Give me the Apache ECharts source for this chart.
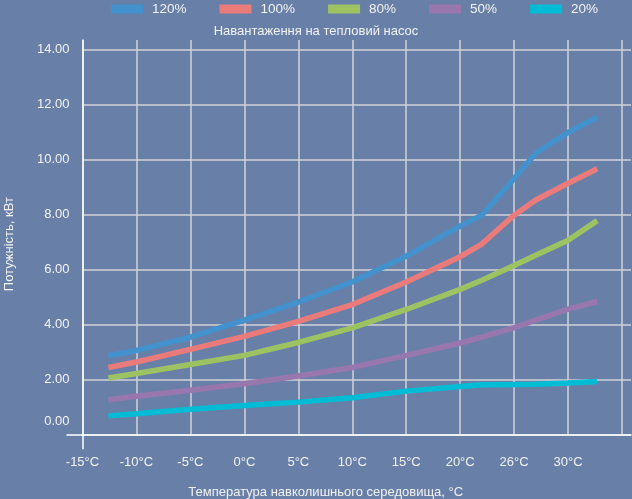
<!DOCTYPE html>
<html><head><meta charset="utf-8">
<script src="https://cdn.jsdelivr.net/npm/echarts@6/dist/echarts.min.js"></script>
<style>html,body{margin:0;padding:0;background:#6880a8}#c{width:632px;height:499px}</style>
</head><body><div id="c"></div>
<script>
// ---- data ----
const seriesNames = ['120%', '100%', '80%', '50%', '20%'];
const temps = [-12.6, -10, -5, 0, 5, 10, 15, 20, 22, 25, 27, 30, 32.7];
const load120 = [2.86, 3.05, 3.53, 4.15, 4.81, 5.54, 6.48, 7.57, 7.97, 9.30, 10.22, 10.98, 11.53];
const load100 = [2.43, 2.63, 3.09, 3.56, 4.11, 4.72, 5.54, 6.46, 6.92, 7.97, 8.52, 9.13, 9.66];
const load80  = [2.05, 2.21, 2.54, 2.87, 3.34, 3.87, 4.54, 5.27, 5.60, 6.14, 6.51, 7.06, 7.77];
const load50  = [1.26, 1.38, 1.60, 1.84, 2.12, 2.43, 2.87, 3.32, 3.53, 3.88, 4.15, 4.55, 4.83];
const load20  = [0.67, 0.75, 0.91, 1.05, 1.17, 1.33, 1.57, 1.74, 1.80, 1.81, 1.82, 1.87, 1.92];
const xTickValues = [-15, -10, -5, 0, 5, 10, 15, 20, 25, 30];
const xTickLabels = ['-15°C', '-10°C', '-5°C', '0°C', '5°C', '10°C', '15°C', '20°C', '26°C', '30°C'];
const yTickValues = [0, 2, 4, 6, 8, 10, 12, 14];
const yTickLabels = ['0.00', '2.00', '4.00', '6.00', '8.00', '10.00', '12.00', '14.00'];
const titleText = 'Навантаження на тепловий насос';
const xName = 'Температура навколишнього середовища, °C';
const yName = 'Потужність, кВт';

// ---- chart ----
const allSeries = [load120, load100, load80, load50, load20];
const colors = ['#4391cd', '#ea7b7a', '#9cc261', '#9877ae', '#00bcd5'];
const font = "'Liberation Sans', Arial, sans-serif";
const txt = '#f2f2f2';
const grid = '#d2d2d6';
const X_MIN = -15, X_MAX = 35.83, Y_MIN = 0, Y_MAX = 14.34;
const chart = echarts.init(document.getElementById('c'), null, {renderer: 'canvas'});
chart.setOption({
  backgroundColor: '#6880a8',
  animation: false,
  color: colors,
  title: {
    text: titleText, left: 'center', top: 25, padding: 0,
    textStyle: {color: txt, fontSize: 13, fontWeight: 'normal', fontFamily: font}
  },
  legend: {
    data: seriesNames, top: 2, left: 111, padding: 0, itemWidth: 32, itemHeight: 9, itemGap: 33,
    icon: 'rect',
    textStyle: {color: txt, fontSize: 13.5, fontFamily: font, padding: [0, 0, 0, 4]}
  },
  grid: {left: 82.5, right: 1, top: 40, bottom: 64.7, containLabel: false, outerBoundsMode: 'none'},
  xAxis: [{
    type: 'value', min: X_MIN, max: X_MAX, interval: 5,
    name: xName, nameLocation: 'middle', nameGap: 52, nameMoveOverlap: false,
    nameTextStyle: {color: txt, fontSize: 13, fontFamily: font, padding: [0, 62, 0, 0]},
    axisLine: {show: true, onZero: false, lineStyle: {color: '#ffffff', width: 1.5}},
    axisTick: {show: false},
    axisLabel: {
      customValues: xTickValues, margin: 22, color: txt, fontSize: 13, fontFamily: font,
      formatter: v => xTickLabels[xTickValues.indexOf(v)] ?? ''
    },
    splitLine: {show: true, showMaxLine: false, lineStyle: {color: grid, width: 1.5}}
  }, {
    type: 'value', min: X_MIN, max: X_MAX, position: 'bottom',
    axisLine: {show: false, onZero: false},
    axisTick: {show: true, customValues: [X_MIN], length: 15, lineStyle: {color: '#ffffff', width: 1.5}},
    axisLabel: {show: false}, splitLine: {show: false}
  }],
  yAxis: [{
    type: 'value', min: Y_MIN, max: Y_MAX, interval: 2,
    name: yName, nameLocation: 'middle', nameGap: 67, nameRotate: 90, nameMoveOverlap: false,
    nameTextStyle: {color: txt, fontSize: 13, fontFamily: font, padding: [0, 14, 0, 0]},
    axisLine: {show: true, onZero: false, lineStyle: {color: '#ffffff', width: 1.5}},
    axisTick: {show: false},
    axisLabel: {
      customValues: yTickValues, margin: 13, color: txt, fontSize: 13, fontFamily: font,
      formatter: v => {
        const s = yTickLabels[yTickValues.indexOf(v)] ?? '';
        return v === 0 ? '{z|' + s + '}' : s;
      },
      rich: {z: {color: txt, fontSize: 13, fontFamily: font, padding: [0, 0, 26, 0]}}
    },
    splitLine: {show: true, showMaxLine: false, lineStyle: {color: grid, width: 1.5}}
  }, {
    type: 'value', min: Y_MIN, max: Y_MAX, position: 'left',
    axisLine: {show: false, onZero: false},
    axisTick: {show: true, customValues: [Y_MIN], length: 16, lineStyle: {color: '#ffffff', width: 1.5}},
    axisLabel: {show: false}, splitLine: {show: false}
  }],
  series: allSeries.map((vals, i) => ({
    name: seriesNames[i], type: 'line', showSymbol: false, symbol: 'none',
    lineStyle: {width: 5.5, color: colors[i]},
    data: temps.map((t, j) => [t, vals[j]])
  }))
});
</script></body></html>
